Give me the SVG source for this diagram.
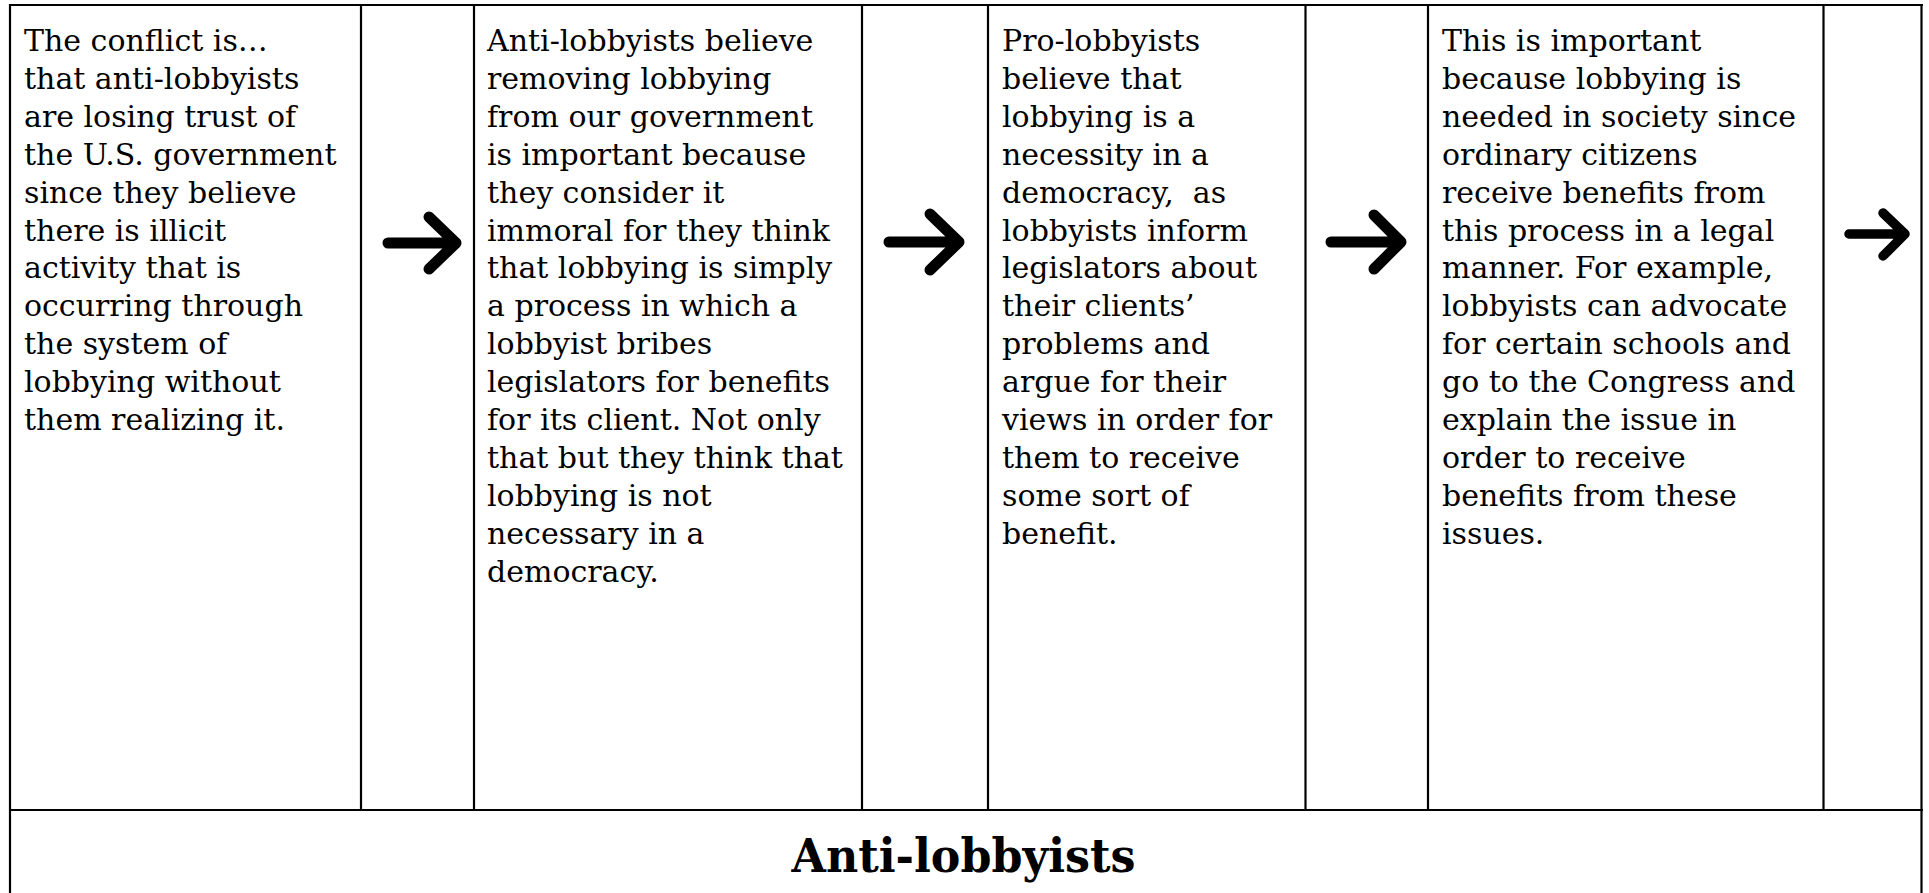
<svg xmlns="http://www.w3.org/2000/svg" width="1929" height="893" viewBox="0 0 1929 893">
<style>
.bg{fill:#ffffff}
.grid{stroke:#000;stroke-width:2.2;fill:none}
.txt{font-family:"DejaVu Serif","Liberation Serif",serif;font-size:30px;fill:#000}
.title{font-family:"DejaVu Serif","Liberation Serif",serif;font-size:47px;font-weight:bold;fill:#000;text-anchor:middle}
.arrow{stroke:#000;stroke-width:11;fill:none;stroke-linecap:round;stroke-linejoin:round}
</style>
<rect class="bg" x="0" y="0" width="1929" height="893"/>
<g id="table" class="grid">
<line x1="9" y1="5" x2="1923" y2="5"/>
<line x1="9" y1="810" x2="1923" y2="810"/>
<line x1="10" y1="4" x2="10" y2="893"/>
<line x1="1921.5" y1="4" x2="1921.5" y2="893"/>
<line x1="361" y1="5" x2="361" y2="810"/>
<line x1="474" y1="5" x2="474" y2="810"/>
<line x1="862" y1="5" x2="862" y2="810"/>
<line x1="988" y1="5" x2="988" y2="810"/>
<line x1="1305.5" y1="5" x2="1305.5" y2="810"/>
<line x1="1428" y1="5" x2="1428" y2="810"/>
<line x1="1823.5" y1="5" x2="1823.5" y2="810"/>
</g>
<g id="node-conflict" class="txt">
<text x="24" y="51">The conflict is…</text>
<text x="24" y="88.9">that anti-lobbyists</text>
<text x="24" y="126.8">are losing trust of</text>
<text x="24" y="164.7">the U.S. government</text>
<text x="24" y="202.6">since they believe</text>
<text x="24" y="240.5">there is illicit</text>
<text x="24" y="278.4">activity that is</text>
<text x="24" y="316.3">occurring through</text>
<text x="24" y="354.2">the system of</text>
<text x="24" y="392.1">lobbying without</text>
<text x="24" y="430">them realizing it.</text>
</g>
<g id="node-anti" class="txt">
<text x="487" y="51">Anti-lobbyists believe</text>
<text x="487" y="88.9">removing lobbying</text>
<text x="487" y="126.8">from our government</text>
<text x="487" y="164.7">is important because</text>
<text x="487" y="202.6">they consider it</text>
<text x="487" y="240.5">immoral for they think</text>
<text x="487" y="278.4">that lobbying is simply</text>
<text x="487" y="316.3">a process in which a</text>
<text x="487" y="354.2">lobbyist bribes</text>
<text x="487" y="392.1">legislators for benefits</text>
<text x="487" y="430">for its client. Not only</text>
<text x="487" y="467.9">that but they think that</text>
<text x="487" y="505.8">lobbying is not</text>
<text x="487" y="543.7">necessary in a</text>
<text x="487" y="581.6">democracy.</text>
</g>
<g id="node-pro" class="txt">
<text x="1002" y="51">Pro-lobbyists</text>
<text x="1002" y="88.9">believe that</text>
<text x="1002" y="126.8">lobbying is a</text>
<text x="1002" y="164.7">necessity in a</text>
<text x="1002" y="202.6" xml:space="preserve">democracy,  as</text>
<text x="1002" y="240.5">lobbyists inform</text>
<text x="1002" y="278.4">legislators about</text>
<text x="1002" y="316.3">their clients’</text>
<text x="1002" y="354.2">problems and</text>
<text x="1002" y="392.1">argue for their</text>
<text x="1002" y="430">views in order for</text>
<text x="1002" y="467.9">them to receive</text>
<text x="1002" y="505.8">some sort of</text>
<text x="1002" y="543.7">benefit.</text>
</g>
<g id="node-important" class="txt">
<text x="1442" y="51">This is important</text>
<text x="1442" y="88.9">because lobbying is</text>
<text x="1442" y="126.8">needed in society since</text>
<text x="1442" y="164.7">ordinary citizens</text>
<text x="1442" y="202.6">receive benefits from</text>
<text x="1442" y="240.5">this process in a legal</text>
<text x="1442" y="278.4">manner. For example,</text>
<text x="1442" y="316.3">lobbyists can advocate</text>
<text x="1442" y="354.2">for certain schools and</text>
<text x="1442" y="392.1">go to the Congress and</text>
<text x="1442" y="430">explain the issue in</text>
<text x="1442" y="467.9">order to receive</text>
<text x="1442" y="505.8">benefits from these</text>
<text x="1442" y="543.7">issues.</text>
</g>
<g id="node-title">
<text class="title" x="963.5" y="872" textLength="344" lengthAdjust="spacingAndGlyphs">Anti-lobbyists</text>
</g>
<g id="connectors" class="arrow">
<path d="M388,243 H456 M429,217 L456,243 L429,269"/>
<path d="M889,242 H959 M930,214 L959,242 L930,270"/>
<path d="M1331,242 H1401 M1374,215 L1401,242 L1374,269"/>
<path d="M1849,234 H1905 M1883,213 L1905,234 L1883,256" style="stroke-width:9.5"/>
</g>
</svg>
